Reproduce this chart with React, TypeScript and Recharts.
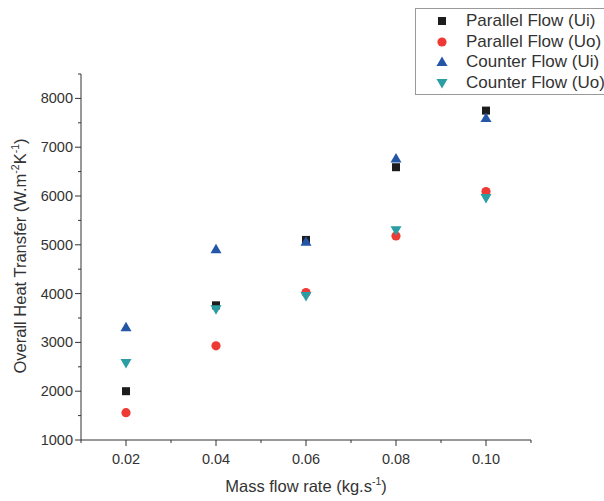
import React from "react";
import { ScatterChart, Scatter, XAxis, YAxis, Label } from "recharts";

// Mass flow rate (kg/s) and overall heat transfer (W.m-2K-1)
const massFlow = [0.02, 0.04, 0.06, 0.08, 0.1];
const parallelUi = [2000, 3760, 5100, 6590, 7750];
const parallelUo = [1560, 2930, 4020, 5180, 6090];
const counterUi = [3310, 4910, 5060, 6770, 7600];
const counterUo = [2580, 3680, 3950, 5300, 5960];

const xTicks = [0.01, 0.02, 0.03, 0.04, 0.05, 0.06, 0.07, 0.08, 0.09, 0.1, 0.11];
const yTicks = [1000, 1500, 2000, 2500, 3000, 3500, 4000, 4500, 5000, 5500, 6000, 6500, 7000, 7500, 8000, 8500];

const FONT = "'Liberation Sans', Arial, sans-serif";
const INK = "#333";

const toPoints = (vals: number[]) => massFlow.map((x, i) => ({ x, y: vals[i] }));

const series = [
  { name: "Parallel Flow (Ui)", color: "#1c1c1c", shape: "square", data: toPoints(parallelUi) },
  { name: "Parallel Flow (Uo)", color: "#ee3a35", shape: "circle", data: toPoints(parallelUo) },
  { name: "Counter Flow (Ui)", color: "#2456a8", shape: "up", data: toPoints(counterUi) },
  { name: "Counter Flow (Uo)", color: "#2a9ea3", shape: "down", data: toPoints(counterUo) },
];

function Marker({ kind, cx, cy, color }: { kind: string; cx: number; cy: number; color: string }) {
  if (kind === "square") return <rect x={cx - 4} y={cy - 4} width={8} height={8} fill={color} />;
  if (kind === "circle") return <circle cx={cx} cy={cy} r={4.6} fill={color} />;
  if (kind === "up")
    return <polygon points={`${cx},${cy - 5.5} ${cx + 5.5},${cy + 4} ${cx - 5.5},${cy + 4}`} fill={color} />;
  return <polygon points={`${cx},${cy + 5.5} ${cx + 5.5},${cy - 4} ${cx - 5.5},${cy - 4}`} fill={color} />;
}

const YTick = (props: any) => {
  const { x, y, payload } = props;
  const major = payload.value % 1000 === 0;
  return (
    <g>
      <line x1={x} x2={x - (major ? 6 : 3)} y1={y} y2={y} stroke={INK} />
      {major && (
        <text x={x - 8} y={y} dy={5} textAnchor="end" fontSize={14.5} fill={INK} fontFamily={FONT}>
          {payload.value}
        </text>
      )}
    </g>
  );
};

const XTick = (props: any) => {
  const { x, y, payload } = props;
  const major = Math.round(payload.value * 100) % 2 === 0;
  return (
    <g>
      <line x1={x} x2={x} y1={y} y2={y + (major ? 6 : 3)} stroke={INK} />
      {major && (
        <text x={x} y={y + 24} textAnchor="middle" fontSize={14.5} fill={INK} fontFamily={FONT}>
          {payload.value.toFixed(2)}
        </text>
      )}
    </g>
  );
};

export default function App() {
  return (
    <div style={{ position: "absolute", left: 0, top: 0, width: 604, height: 501, background: "#fff", overflow: "hidden" }}>
      <ScatterChart width={604} height={501} margin={{ top: 74, right: 73, bottom: 0, left: 0 }}>
        <XAxis
          type="number"
          dataKey="x"
          domain={[0.01, 0.11]}
          ticks={xTicks}
          interval={0}
          tick={<XTick />}
          tickLine={false}
          tickSize={0}
          tickMargin={0}
          height={61}
          axisLine={{ stroke: INK }}
        >
          <Label
            content={(p: any) => {
              const vb = p.viewBox || { x: 81, width: 450, y: 440 };
              return (
                <text x={vb.x + vb.width / 2} y={492} textAnchor="middle" fontSize={16.5} fill={INK} fontFamily={FONT}>
                  Mass flow rate (kg.s<tspan dy={-7} fontSize={10.5}>-1</tspan>
                  <tspan dy={7}>)</tspan>
                </text>
              );
            }}
          />
        </XAxis>
        <YAxis
          type="number"
          dataKey="y"
          domain={[1000, 8500]}
          ticks={yTicks}
          interval={0}
          tick={<YTick />}
          tickLine={false}
          tickSize={0}
          tickMargin={0}
          width={81}
          axisLine={{ stroke: INK }}
        >
          <Label
            content={() => (
              <text
                x={0}
                y={0}
                transform="translate(26 256) rotate(-90)"
                textAnchor="middle"
                fontSize={16.5}
                fill={INK}
                fontFamily={FONT}
              >
                Overall Heat Transfer (W.m<tspan dy={-7} fontSize={10.5}>-2</tspan>
                <tspan dy={7}>K</tspan>
                <tspan dy={-7} fontSize={10.5}>-1</tspan>
                <tspan dy={7}>)</tspan>
              </text>
            )}
          />
        </YAxis>
        {series.map((s) => (
          <Scatter
            key={s.name}
            name={s.name}
            data={s.data}
            fill={s.color}
            isAnimationActive={false}
            shape={(p: any) => <Marker kind={s.shape} cx={p.cx} cy={p.cy} color={s.color} />}
          />
        ))}
      </ScatterChart>
      <div
        style={{
          position: "absolute",
          left: 415,
          top: 8,
          width: 200,
          height: 85,
          border: "1px solid #999",
          fontFamily: FONT,
          fontSize: 17,
          color: INK,
        }}
      >
        {series.map((s, i) => (
          <div key={s.name} style={{ position: "absolute", left: 0, top: 2 + i * 20.6, height: 20, display: "flex", alignItems: "center" }}>
            <svg width={50} height={20} style={{ display: "block" }}>
              <Marker kind={s.shape} cx={26} cy={10} color={s.color} />
            </svg>
            <span style={{ whiteSpace: "nowrap" }}>{s.name}</span>
          </div>
        ))}
      </div>
    </div>
  );
}
